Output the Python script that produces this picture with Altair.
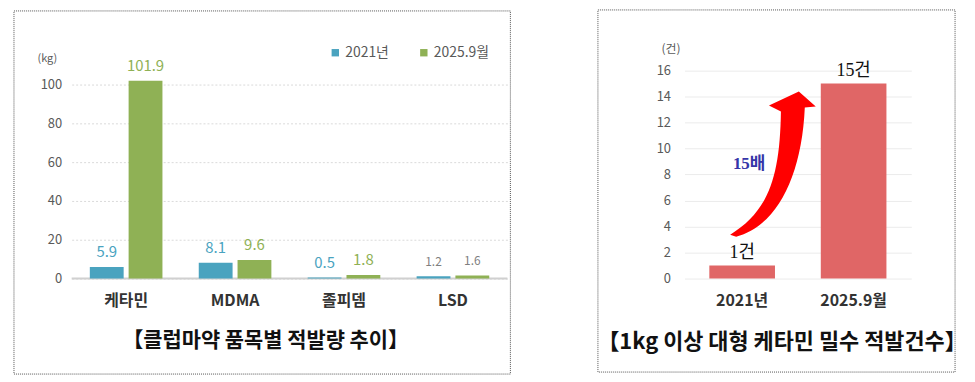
import altair as alt
import pandas as pd

# ---------------- data ----------------
categories = ["케타민", "MDMA", "졸피뎀", "LSD"]
series = ["2021년", "2025.9월"]
kg_2021 = [5.9, 8.1, 0.5, 1.2]
kg_2025 = [101.9, 9.6, 1.8, 1.6]

years = ["2021년", "2025.9월"]
cases = [1, 15]
case_labels = ["1건", "15건"]
case_ticks = [0, 2, 4, 6, 8, 10, 12, 14, 16]
kg_ticks = [0, 20, 40, 60, 80, 100]

left_title = "【클럽마약 품목별 적발량 추이】"
right_title = "【1kg 이상 대형 케타민 밀수 적발건수】"
ratio_label = "15배"

KR = "Noto Sans CJK KR"
SERIF = "Liberation Serif, Noto Sans CJK KR"
BLUE = "#4AA3BF"
GREEN = "#8FB155"
RED_BAR = "#E06666"

rows = []
for i, c in enumerate(categories):
    rows.append({"category": c, "series": series[0], "value": kg_2021[i]})
    rows.append({"category": c, "series": series[1], "value": kg_2025[i]})
df_left = pd.DataFrame(rows)
df_left["label"] = df_left["value"].map(lambda v: f"{v:.1f}")

df_right = pd.DataFrame({"year": years, "count": cases, "label": case_labels})

# ---------------- left chart ----------------
LW, LH = 438, 234
xl = alt.X("category:N", sort=categories,
           scale=alt.Scale(paddingInner=0, paddingOuter=0),
           axis=alt.Axis(title=None, labelAngle=0, domain=False, ticks=False,
                         labelPadding=14, labelFont=KR, labelFontSize=16,
                         labelFontWeight="bold", labelColor="#333333"))
xoff = alt.XOffset("series:N", sort=series,
                   scale=alt.Scale(paddingInner=0.128, paddingOuter=0.468))
yl_axis = alt.Axis(values=kg_ticks, title="(kg)",
                   titleAngle=0, titleAlign="center", titleBaseline="middle",
                   titleX=-25, titleY=13, titleFont=KR, titleFontSize=11,
                   titleFontWeight="normal", titleColor="#595959",
                   domain=False, ticks=False, labelPadding=10,
                   labelFont=KR, labelFontSize=13, labelColor="#595959",
                   labelOverlap=False,
                   grid=True, gridColor="#DADADA", gridDash=[2, 2], gridWidth=1)
yl_scale = alt.Scale(domain=[0, 120], nice=False)
yl = alt.Y("value:Q", scale=yl_scale, axis=yl_axis)

base_left = alt.Chart(df_left)
bars_left = base_left.mark_bar().encode(
    x=xl, xOffset=xoff, y=yl,
    color=alt.Color("series:N", sort=series,
                    scale=alt.Scale(domain=series, range=[BLUE, GREEN]),
                    legend=alt.Legend(orient="none", legendX=258, legendY=0,
                                      direction="horizontal", title=None,
                                      symbolType="square", symbolSize=55,
                                      symbolStrokeWidth=0, labelFont=KR,
                                      labelFontSize=14, labelColor="#595959",
                                      columnPadding=28, labelOffset=3)),
)
labels_left = base_left.mark_text(baseline="bottom", dy=-7, font=KR).encode(
    x=alt.X("category:N", sort=categories), xOffset=alt.XOffset("series:N", sort=series),
    y=alt.Y("value:Q", scale=yl_scale, axis=yl_axis), text="label:N",
    color=alt.condition("datum.category == 'LSD'", alt.value("#7F7F7F"),
                        alt.Color("series:N", sort=series, legend=None)),
    size=alt.condition("datum.category == 'LSD'", alt.value(12), alt.value(15)),
)
zero_left = alt.Chart(pd.DataFrame({"z": [0]})).mark_rule(
    color="#D0D0D0", strokeWidth=2).encode(
    y=alt.YDatum(0, type="quantitative", scale=yl_scale, axis=yl_axis))
title_l = alt.Chart(pd.DataFrame({"t": [left_title]})).mark_text(
    font=KR, fontSize=21, fontWeight="bold", color="#111111",
    align="center", baseline="middle").encode(
    x=alt.value(195), y=alt.value(297), text="t:N")
frame_l = alt.Chart(pd.DataFrame({"f": [0]})).mark_rect(
    fill=None, stroke="#555555", strokeWidth=1, strokeDash=[1, 1]).encode(
    x=alt.value(-58), x2=alt.value(441), y=alt.value(-35), y2=alt.value(330))

left = alt.layer(zero_left, bars_left, labels_left, title_l, frame_l).properties(
    width=LW, height=LH)

# ---------------- right chart ----------------
RW, RH = 228, 234
xr = alt.X("year:N", sort=years,
           scale=alt.Scale(paddingInner=0.411, paddingOuter=0.223),
           axis=alt.Axis(title=None, labelAngle=0, domain=False, ticks=False,
                         labelPadding=14, labelFont=KR, labelFontSize=16,
                         labelFontWeight="bold", labelColor="#333333"))
yr_axis = alt.Axis(values=case_ticks, title="(건)",
                   titleAngle=0, titleAlign="center", titleBaseline="middle",
                   titleX=-14, titleY=3, titleFont=KR, titleFontSize=12,
                   titleFontWeight="normal", titleColor="#595959",
                   domain=False, ticks=False, labelPadding=14,
                   labelFont=KR, labelFontSize=13, labelColor="#595959",
                   labelOverlap=False,
                   grid=True, gridColor="#EBEBEB", gridWidth=1)
yr_scale = alt.Scale(domain=[0, 17.9], nice=False)
yr = alt.Y("count:Q", scale=yr_scale, axis=yr_axis)

base_right = alt.Chart(df_right)
bars_right = base_right.mark_bar(color=RED_BAR).encode(x=xr, y=yr)
labels_right = base_right.mark_text(baseline="bottom", dy=-4, font=SERIF,
                                    fontSize=18, color="#111111").encode(
    x=alt.X("year:N", sort=years), y=yr, text="label:N")

arrow_path = ("M -0.567 0.94 C -0.047 0.62 0.1 0.153 0.113 -0.713 "
              "L -0.047 -0.793 L 0.353 -0.98 L 0.58 -0.78 L 0.433 -0.767 "
              "C 0.393 0.153 0.06 0.82 -0.487 0.967 Z")
arrow = alt.Chart(pd.DataFrame({"a": [0]})).mark_point(
    shape=arrow_path, size=22500, filled=True, color="#FF0000", opacity=1,
    strokeWidth=0, xOffset=30.5).encode(
    x=alt.XDatum(years[0], type="nominal"),
    y=alt.YDatum(8.76, type="quantitative", scale=yr_scale, axis=yr_axis))
ratio = alt.Chart(pd.DataFrame({"t": [ratio_label]})).mark_text(
    font=SERIF, fontSize=17, fontWeight="bold", color="#3535A8",
    align="center", baseline="middle", xOffset=7).encode(
    x=alt.XDatum(years[0], type="nominal"),
    y=alt.YDatum(8.8, type="quantitative", scale=yr_scale, axis=yr_axis),
    text="t:N")
title_r = alt.Chart(pd.DataFrame({"t": [right_title]})).mark_text(
    font=KR, fontSize=22, fontWeight="bold", color="#111111",
    align="center", baseline="middle").encode(
    x=alt.value(98), y=alt.value(298), text="t:N")
frame_r = alt.Chart(pd.DataFrame({"f": [0]})).mark_rect(
    fill=None, stroke="#555555", strokeWidth=1, strokeDash=[1, 1]).encode(
    x=alt.value(-87), x2=alt.value(272), y=alt.value(-36), y2=alt.value(328))

right = alt.layer(bars_right, labels_right, arrow, ratio, title_r, frame_r).properties(
    width=RW, height=RH)

chart = alt.hconcat(left, right, spacing=86).properties(
    padding={"left": 5, "top": 0, "right": 0, "bottom": 0},
    background="white",
).configure_view(stroke=None)

chart.save("out.html", embed_options={"renderer": "svg", "actions": False})
